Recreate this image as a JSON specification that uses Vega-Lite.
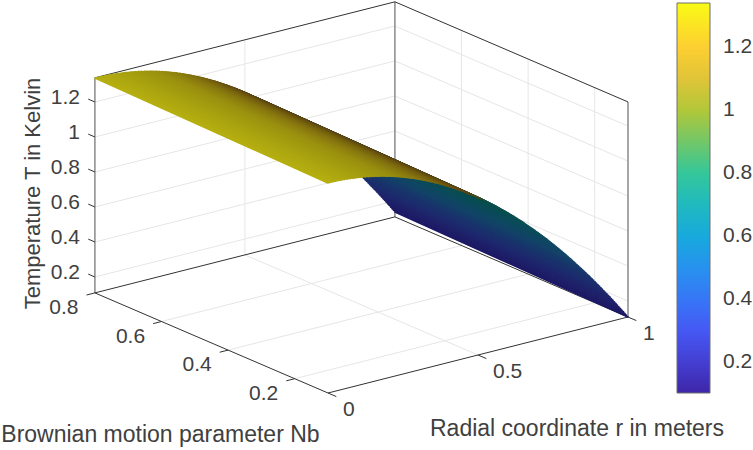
{
  "$schema": "https://vega.github.io/schema/vega-lite/v6.json",
  "description": "3D surface of temperature over r and Nb, projected by hand onto the screen plane.",
  "background": "white",
  "autosize": {"type": "fit", "contains": "padding"},
  "width": 753,
  "height": 450,
  "padding": 0,
  "datasets": {
    "surface": [
      {"r":1,"T_back":0.137,"T_front":0.109},{"r":0.995,"T_back":0.149,"T_front":0.121},{"r":0.99,"T_back":0.161,"T_front":0.133},{"r":0.985,"T_back":0.173,"T_front":0.145},{"r":0.98,"T_back":0.185,"T_front":0.157},{"r":0.975,"T_back":0.196,"T_front":0.168},{"r":0.97,"T_back":0.208,"T_front":0.18},{"r":0.965,"T_back":0.22,"T_front":0.192},{"r":0.96,"T_back":0.231,"T_front":0.203},{"r":0.955,"T_back":0.243,"T_front":0.215},
      {"r":0.95,"T_back":0.254,"T_front":0.226},{"r":0.945,"T_back":0.265,"T_front":0.237},{"r":0.94,"T_back":0.277,"T_front":0.249},{"r":0.935,"T_back":0.288,"T_front":0.26},{"r":0.93,"T_back":0.299,"T_front":0.271},{"r":0.925,"T_back":0.31,"T_front":0.282},{"r":0.92,"T_back":0.321,"T_front":0.293},{"r":0.915,"T_back":0.332,"T_front":0.304},{"r":0.91,"T_back":0.343,"T_front":0.315},{"r":0.905,"T_back":0.354,"T_front":0.326},
      {"r":0.9,"T_back":0.365,"T_front":0.337},{"r":0.895,"T_back":0.376,"T_front":0.348},{"r":0.89,"T_back":0.386,"T_front":0.358},{"r":0.885,"T_back":0.397,"T_front":0.369},{"r":0.88,"T_back":0.408,"T_front":0.38},{"r":0.875,"T_back":0.418,"T_front":0.39},{"r":0.87,"T_back":0.429,"T_front":0.401},{"r":0.865,"T_back":0.439,"T_front":0.411},{"r":0.86,"T_back":0.449,"T_front":0.421},{"r":0.855,"T_back":0.46,"T_front":0.432},
      {"r":0.85,"T_back":0.47,"T_front":0.442},{"r":0.845,"T_back":0.48,"T_front":0.452},{"r":0.84,"T_back":0.49,"T_front":0.462},{"r":0.835,"T_back":0.5,"T_front":0.472},{"r":0.83,"T_back":0.51,"T_front":0.482},{"r":0.825,"T_back":0.52,"T_front":0.492},{"r":0.82,"T_back":0.53,"T_front":0.502},{"r":0.815,"T_back":0.54,"T_front":0.512},{"r":0.81,"T_back":0.55,"T_front":0.522},{"r":0.805,"T_back":0.559,"T_front":0.531},
      {"r":0.8,"T_back":0.569,"T_front":0.541},{"r":0.795,"T_back":0.579,"T_front":0.551},{"r":0.79,"T_back":0.588,"T_front":0.56},{"r":0.785,"T_back":0.598,"T_front":0.57},{"r":0.78,"T_back":0.607,"T_front":0.579},{"r":0.775,"T_back":0.616,"T_front":0.588},{"r":0.77,"T_back":0.626,"T_front":0.598},{"r":0.765,"T_back":0.635,"T_front":0.607},{"r":0.76,"T_back":0.644,"T_front":0.616},{"r":0.755,"T_back":0.653,"T_front":0.625},
      {"r":0.75,"T_back":0.662,"T_front":0.634},{"r":0.745,"T_back":0.671,"T_front":0.643},{"r":0.74,"T_back":0.68,"T_front":0.652},{"r":0.735,"T_back":0.689,"T_front":0.661},{"r":0.73,"T_back":0.698,"T_front":0.67},{"r":0.725,"T_back":0.706,"T_front":0.678},{"r":0.72,"T_back":0.715,"T_front":0.687},{"r":0.715,"T_back":0.724,"T_front":0.696},{"r":0.71,"T_back":0.732,"T_front":0.704},{"r":0.705,"T_back":0.741,"T_front":0.713},
      {"r":0.7,"T_back":0.749,"T_front":0.721},{"r":0.695,"T_back":0.757,"T_front":0.729},{"r":0.69,"T_back":0.766,"T_front":0.738},{"r":0.685,"T_back":0.774,"T_front":0.746},{"r":0.68,"T_back":0.782,"T_front":0.754},{"r":0.675,"T_back":0.79,"T_front":0.762},{"r":0.67,"T_back":0.798,"T_front":0.77},{"r":0.665,"T_back":0.806,"T_front":0.778},{"r":0.66,"T_back":0.814,"T_front":0.786},{"r":0.655,"T_back":0.822,"T_front":0.794},
      {"r":0.65,"T_back":0.83,"T_front":0.802},{"r":0.645,"T_back":0.838,"T_front":0.81},{"r":0.64,"T_back":0.845,"T_front":0.817},{"r":0.635,"T_back":0.853,"T_front":0.825},{"r":0.63,"T_back":0.861,"T_front":0.833},{"r":0.625,"T_back":0.868,"T_front":0.84},{"r":0.62,"T_back":0.876,"T_front":0.848},{"r":0.615,"T_back":0.883,"T_front":0.855},{"r":0.61,"T_back":0.89,"T_front":0.862},{"r":0.605,"T_back":0.898,"T_front":0.87},
      {"r":0.6,"T_back":0.905,"T_front":0.877},{"r":0.595,"T_back":0.912,"T_front":0.884},{"r":0.59,"T_back":0.919,"T_front":0.891},{"r":0.585,"T_back":0.926,"T_front":0.898},{"r":0.58,"T_back":0.933,"T_front":0.905},{"r":0.575,"T_back":0.94,"T_front":0.912},{"r":0.57,"T_back":0.947,"T_front":0.919},{"r":0.565,"T_back":0.954,"T_front":0.926},{"r":0.56,"T_back":0.961,"T_front":0.933},{"r":0.555,"T_back":0.967,"T_front":0.939},
      {"r":0.55,"T_back":0.974,"T_front":0.946},{"r":0.545,"T_back":0.981,"T_front":0.953},{"r":0.54,"T_back":0.987,"T_front":0.959},{"r":0.535,"T_back":0.994,"T_front":0.966},{"r":0.53,"T_back":1.0,"T_front":0.972},{"r":0.525,"T_back":1.006,"T_front":0.978},{"r":0.52,"T_back":1.013,"T_front":0.985},{"r":0.515,"T_back":1.019,"T_front":0.991},{"r":0.51,"T_back":1.025,"T_front":0.997},{"r":0.505,"T_back":1.031,"T_front":1.003},
      {"r":0.5,"T_back":1.037,"T_front":1.009},{"r":0.495,"T_back":1.043,"T_front":1.015},{"r":0.49,"T_back":1.049,"T_front":1.021},{"r":0.485,"T_back":1.055,"T_front":1.027},{"r":0.48,"T_back":1.061,"T_front":1.033},{"r":0.475,"T_back":1.066,"T_front":1.038},{"r":0.47,"T_back":1.072,"T_front":1.044},{"r":0.465,"T_back":1.078,"T_front":1.05},{"r":0.46,"T_back":1.083,"T_front":1.055},{"r":0.455,"T_back":1.089,"T_front":1.061},
      {"r":0.45,"T_back":1.094,"T_front":1.066},{"r":0.445,"T_back":1.099,"T_front":1.071},{"r":0.44,"T_back":1.105,"T_front":1.077},{"r":0.435,"T_back":1.11,"T_front":1.082},{"r":0.43,"T_back":1.115,"T_front":1.087},{"r":0.425,"T_back":1.12,"T_front":1.092},{"r":0.42,"T_back":1.125,"T_front":1.097},{"r":0.415,"T_back":1.13,"T_front":1.102},{"r":0.41,"T_back":1.135,"T_front":1.107},{"r":0.405,"T_back":1.14,"T_front":1.112},
      {"r":0.4,"T_back":1.145,"T_front":1.117},{"r":0.395,"T_back":1.15,"T_front":1.122},{"r":0.39,"T_back":1.154,"T_front":1.126},{"r":0.385,"T_back":1.159,"T_front":1.131},{"r":0.38,"T_back":1.164,"T_front":1.136},{"r":0.375,"T_back":1.168,"T_front":1.14},{"r":0.37,"T_back":1.173,"T_front":1.145},{"r":0.365,"T_back":1.177,"T_front":1.149},{"r":0.36,"T_back":1.181,"T_front":1.153},{"r":0.355,"T_back":1.186,"T_front":1.158},
      {"r":0.35,"T_back":1.19,"T_front":1.162},{"r":0.345,"T_back":1.194,"T_front":1.166},{"r":0.34,"T_back":1.198,"T_front":1.17},{"r":0.335,"T_back":1.202,"T_front":1.174},{"r":0.33,"T_back":1.206,"T_front":1.178},{"r":0.325,"T_back":1.21,"T_front":1.182},{"r":0.32,"T_back":1.214,"T_front":1.186},{"r":0.315,"T_back":1.218,"T_front":1.19},{"r":0.31,"T_back":1.222,"T_front":1.194},{"r":0.305,"T_back":1.225,"T_front":1.197},
      {"r":0.3,"T_back":1.229,"T_front":1.201},{"r":0.295,"T_back":1.233,"T_front":1.205},{"r":0.29,"T_back":1.236,"T_front":1.208},{"r":0.285,"T_back":1.24,"T_front":1.212},{"r":0.28,"T_back":1.243,"T_front":1.215},{"r":0.275,"T_back":1.246,"T_front":1.218},{"r":0.27,"T_back":1.25,"T_front":1.222},{"r":0.265,"T_back":1.253,"T_front":1.225},{"r":0.26,"T_back":1.256,"T_front":1.228},{"r":0.255,"T_back":1.259,"T_front":1.231},
      {"r":0.25,"T_back":1.262,"T_front":1.234},{"r":0.245,"T_back":1.265,"T_front":1.237},{"r":0.24,"T_back":1.268,"T_front":1.24},{"r":0.235,"T_back":1.271,"T_front":1.243},{"r":0.23,"T_back":1.274,"T_front":1.246},{"r":0.225,"T_back":1.276,"T_front":1.248},{"r":0.22,"T_back":1.279,"T_front":1.251},{"r":0.215,"T_back":1.282,"T_front":1.254},{"r":0.21,"T_back":1.284,"T_front":1.256},{"r":0.205,"T_back":1.287,"T_front":1.259},
      {"r":0.2,"T_back":1.289,"T_front":1.261},{"r":0.195,"T_back":1.291,"T_front":1.263},{"r":0.19,"T_back":1.294,"T_front":1.266},{"r":0.185,"T_back":1.296,"T_front":1.268},{"r":0.18,"T_back":1.298,"T_front":1.27},{"r":0.175,"T_back":1.3,"T_front":1.272},{"r":0.17,"T_back":1.302,"T_front":1.274},{"r":0.165,"T_back":1.304,"T_front":1.276},{"r":0.16,"T_back":1.306,"T_front":1.278},{"r":0.155,"T_back":1.308,"T_front":1.28},
      {"r":0.15,"T_back":1.31,"T_front":1.282},{"r":0.145,"T_back":1.312,"T_front":1.284},{"r":0.14,"T_back":1.313,"T_front":1.285},{"r":0.135,"T_back":1.315,"T_front":1.287},{"r":0.13,"T_back":1.317,"T_front":1.289},{"r":0.125,"T_back":1.318,"T_front":1.29},{"r":0.12,"T_back":1.32,"T_front":1.292},{"r":0.115,"T_back":1.321,"T_front":1.293},{"r":0.11,"T_back":1.322,"T_front":1.294},{"r":0.105,"T_back":1.324,"T_front":1.296},
      {"r":0.1,"T_back":1.325,"T_front":1.297},{"r":0.095,"T_back":1.326,"T_front":1.298},{"r":0.09,"T_back":1.327,"T_front":1.299},{"r":0.085,"T_back":1.328,"T_front":1.3},{"r":0.08,"T_back":1.329,"T_front":1.301},{"r":0.075,"T_back":1.33,"T_front":1.302},{"r":0.07,"T_back":1.331,"T_front":1.303},{"r":0.065,"T_back":1.332,"T_front":1.304},{"r":0.06,"T_back":1.333,"T_front":1.305},{"r":0.055,"T_back":1.333,"T_front":1.305},
      {"r":0.05,"T_back":1.334,"T_front":1.306},{"r":0.045,"T_back":1.335,"T_front":1.307},{"r":0.04,"T_back":1.335,"T_front":1.307},{"r":0.035,"T_back":1.336,"T_front":1.308},{"r":0.03,"T_back":1.336,"T_front":1.308},{"r":0.025,"T_back":1.336,"T_front":1.308},{"r":0.02,"T_back":1.337,"T_front":1.309},{"r":0.015,"T_back":1.337,"T_front":1.309},{"r":0.01,"T_back":1.337,"T_front":1.309},{"r":0.005,"T_back":1.337,"T_front":1.309},{"r":0,"T_back":1.337,"T_front":1.309}
    ],
    "grid": [
      {"r":0,"nb":0.8,"T":0.2,"r2":1,"nb2":0.8,"T2":0.2},{"r":0,"nb":0.8,"T":0.4,"r2":1,"nb2":0.8,"T2":0.4},{"r":0,"nb":0.8,"T":0.6,"r2":1,"nb2":0.8,"T2":0.6},{"r":0,"nb":0.8,"T":0.8,"r2":1,"nb2":0.8,"T2":0.8},{"r":0,"nb":0.8,"T":1,"r2":1,"nb2":0.8,"T2":1},{"r":0,"nb":0.8,"T":1.2,"r2":1,"nb2":0.8,"T2":1.2},
      {"r":1,"nb":0.8,"T":0.2,"r2":1,"nb2":0.1,"T2":0.2},{"r":1,"nb":0.8,"T":0.4,"r2":1,"nb2":0.1,"T2":0.4},{"r":1,"nb":0.8,"T":0.6,"r2":1,"nb2":0.1,"T2":0.6},{"r":1,"nb":0.8,"T":0.8,"r2":1,"nb2":0.1,"T2":0.8},{"r":1,"nb":0.8,"T":1,"r2":1,"nb2":0.1,"T2":1},{"r":1,"nb":0.8,"T":1.2,"r2":1,"nb2":0.1,"T2":1.2},
      {"r":0.5,"nb":0.8,"T":0.109,"r2":0.5,"nb2":0.8,"T2":1.338},{"r":1,"nb":0.6,"T":0.109,"r2":1,"nb2":0.6,"T2":1.338},{"r":1,"nb":0.4,"T":0.109,"r2":1,"nb2":0.4,"T2":1.338},{"r":1,"nb":0.2,"T":0.109,"r2":1,"nb2":0.2,"T2":1.338},
      {"r":0.5,"nb":0.8,"T":0.109,"r2":0.5,"nb2":0.1,"T2":0.109},{"r":0,"nb":0.6,"T":0.109,"r2":1,"nb2":0.6,"T2":0.109},{"r":0,"nb":0.4,"T":0.109,"r2":1,"nb2":0.4,"T2":0.109},{"r":0,"nb":0.2,"T":0.109,"r2":1,"nb2":0.2,"T2":0.109}
    ],
    "walls": [
      {"r":0,"nb":0.8,"T":0.109,"r2":0,"nb2":0.8,"T2":1.338},{"r":1,"nb":0.8,"T":0.109,"r2":1,"nb2":0.8,"T2":1.338},{"r":1,"nb":0.1,"T":0.109,"r2":1,"nb2":0.1,"T2":1.338}
    ],
    "box": [
      {"r":0,"nb":0.8,"T":0.109,"r2":0,"nb2":0.1,"T2":0.109},{"r":0,"nb":0.1,"T":0.109,"r2":1,"nb2":0.1,"T2":0.109},{"r":0,"nb":0.8,"T":0.109,"r2":1,"nb2":0.8,"T2":0.109},{"r":1,"nb":0.8,"T":0.109,"r2":1,"nb2":0.1,"T2":0.109},
      {"r":0,"nb":0.8,"T":1.338,"r2":1,"nb2":0.8,"T2":1.338},{"r":1,"nb":0.8,"T":1.338,"r2":1,"nb2":0.1,"T2":1.338},
      {"r":0,"nb":0.8,"T":0.109,"r2":-0.028,"nb2":0.8,"T2":0.109},{"r":0,"nb":0.6,"T":0.109,"r2":-0.028,"nb2":0.6,"T2":0.109},{"r":0,"nb":0.4,"T":0.109,"r2":-0.028,"nb2":0.4,"T2":0.109},{"r":0,"nb":0.2,"T":0.109,"r2":-0.028,"nb2":0.2,"T2":0.109},
      {"r":0,"nb":0.1,"T":0.109,"r2":0,"nb2":0.075,"T2":0.109},{"r":0.5,"nb":0.1,"T":0.109,"r2":0.5,"nb2":0.075,"T2":0.109},{"r":1,"nb":0.1,"T":0.109,"r2":1,"nb2":0.075,"T2":0.109},
      {"r":0,"nb":0.8,"T":0.2,"r2":0,"nb2":0.82,"T2":0.2},{"r":0,"nb":0.8,"T":0.4,"r2":0,"nb2":0.82,"T2":0.4},{"r":0,"nb":0.8,"T":0.6,"r2":0,"nb2":0.82,"T2":0.6},{"r":0,"nb":0.8,"T":0.8,"r2":0,"nb2":0.82,"T2":0.8},{"r":0,"nb":0.8,"T":1,"r2":0,"nb2":0.82,"T2":1},{"r":0,"nb":0.8,"T":1.2,"r2":0,"nb2":0.82,"T2":1.2}
    ],
    "labels_T": [
      {"r":0,"nb":0.8,"T":0.2,"label":"0.2"},{"r":0,"nb":0.8,"T":0.4,"label":"0.4"},{"r":0,"nb":0.8,"T":0.6,"label":"0.6"},{"r":0,"nb":0.8,"T":0.8,"label":"0.8"},{"r":0,"nb":0.8,"T":1,"label":"1"},{"r":0,"nb":0.8,"T":1.2,"label":"1.2"}
    ],
    "labels_nb": [
      {"r":0,"nb":0.8,"T":0.109,"label":"0.8"},{"r":0,"nb":0.6,"T":0.109,"label":"0.6"},{"r":0,"nb":0.4,"T":0.109,"label":"0.4"},{"r":0,"nb":0.2,"T":0.109,"label":"0.2"}
    ],
    "labels_r": [
      {"r":0,"nb":0.1,"T":0.109,"label":"0"},{"r":0.5,"nb":0.1,"T":0.109,"label":"0.5"},{"r":1,"nb":0.1,"T":0.109,"label":"1"}
    ]
  },
  "layer": [
    {
      "data": {"name": "grid"},
      "transform": [
        {"calculate": "328+300*datum.r-333*(datum.nb-0.1)", "as": "sx"},
        {"calculate": "393-76*datum.r-143*(datum.nb-0.1)-175*(datum.T-0.109)", "as": "sy"},
        {"calculate": "328+300*datum.r2-333*(datum.nb2-0.1)", "as": "sx2"},
        {"calculate": "393-76*datum.r2-143*(datum.nb2-0.1)-175*(datum.T2-0.109)", "as": "sy2"}
      ],
      "mark": {"type": "rule", "color": "#e6e6e6", "strokeWidth": 1},
      "encoding": {
        "x": {"field": "sx", "type": "quantitative", "scale": {"domain": [0, 753], "nice": false, "zero": false}, "axis": null},
        "y": {"field": "sy", "type": "quantitative", "scale": {"domain": [450, 0], "nice": false, "zero": false}, "axis": null},
        "x2": {"field": "sx2"},
        "y2": {"field": "sy2"}
      }
    },
    {
      "data": {"name": "walls"},
      "transform": [
        {"calculate": "328+300*datum.r-333*(datum.nb-0.1)", "as": "sx"},
        {"calculate": "393-76*datum.r-143*(datum.nb-0.1)-175*(datum.T-0.109)", "as": "sy"},
        {"calculate": "328+300*datum.r2-333*(datum.nb2-0.1)", "as": "sx2"},
        {"calculate": "393-76*datum.r2-143*(datum.nb2-0.1)-175*(datum.T2-0.109)", "as": "sy2"}
      ],
      "mark": {"type": "rule", "color": "#8a8a8a", "strokeWidth": 1.5},
      "encoding": {
        "x": {"field": "sx", "type": "quantitative", "axis": null},
        "y": {"field": "sy", "type": "quantitative", "axis": null},
        "x2": {"field": "sx2"},
        "y2": {"field": "sy2"}
      }
    },
    {
      "data": {"name": "box"},
      "transform": [
        {"calculate": "328+300*datum.r-333*(datum.nb-0.1)", "as": "sx"},
        {"calculate": "393-76*datum.r-143*(datum.nb-0.1)-175*(datum.T-0.109)", "as": "sy"},
        {"calculate": "328+300*datum.r2-333*(datum.nb2-0.1)", "as": "sx2"},
        {"calculate": "393-76*datum.r2-143*(datum.nb2-0.1)-175*(datum.T2-0.109)", "as": "sy2"}
      ],
      "mark": {"type": "rule", "color": "#333333", "strokeWidth": 1},
      "encoding": {
        "x": {"field": "sx", "type": "quantitative", "axis": null},
        "y": {"field": "sy", "type": "quantitative", "axis": null},
        "x2": {"field": "sx2"},
        "y2": {"field": "sy2"}
      }
    },
    {
      "data": {"name": "surface"},
      "transform": [
        {"calculate": "95+300*datum.r", "as": "sx"},
        {"calculate": "293-76*datum.r-175*(datum.T_back-0.109)", "as": "sy"},
        {"calculate": "328+300*datum.r", "as": "sx2"},
        {"calculate": "393-76*datum.r-175*(datum.T_front-0.109)", "as": "sy2"}
      ],
      "mark": {"type": "rule", "strokeWidth": 0.6},
      "encoding": {
        "x": {"field": "sx", "type": "quantitative", "axis": null},
        "y": {"field": "sy", "type": "quantitative", "axis": null},
        "x2": {"field": "sx2"},
        "y2": {"field": "sy2"},
        "color": {
          "field": "T_back",
          "type": "quantitative",
          "scale": {
            "domain": [0.1, 0.277, 0.454, 0.631, 0.809, 0.986, 1.163, 1.34],
            "range": ["#3e26a8", "#4852f4", "#2e87f7", "#12b1d6", "#37c897", "#abc739", "#fec338", "#f9fb15"],
            "interpolate": "rgb"
          },
          "legend": {
            "orient": "none",
            "legendX": 677,
            "legendY": 3,
            "title": null,
            "direction": "vertical",
            "gradientLength": 390,
            "gradientThickness": 33,
            "gradientStrokeColor": "#6f6f6f",
            "gradientStrokeWidth": 1,
            "values": [0.2, 0.4, 0.6, 0.8, 1, 1.2],
            "format": "~g",
            "labelFont": "Liberation Sans",
            "labelFontSize": 21,
            "labelColor": "#404040",
            "labelOffset": 13,
            "labelOverlap": false,
            "padding": 0
          }
        }
      }
    },
    {
      "data": {"name": "surface"},
      "transform": [
        {"calculate": "95+300*datum.r", "as": "sx"},
        {"calculate": "293-76*datum.r-175*(datum.T_back-0.109)", "as": "sy"},
        {"calculate": "328+300*datum.r", "as": "sx2"},
        {"calculate": "393-76*datum.r-175*(datum.T_front-0.109)", "as": "sy2"}
      ],
      "mark": {"type": "rule", "strokeWidth": 1.6, "strokeCap": "round"},
      "encoding": {
        "x": {"field": "sx", "type": "quantitative", "axis": null},
        "y": {"field": "sy", "type": "quantitative", "axis": null},
        "x2": {"field": "sx2"},
        "y2": {"field": "sy2"},
        "color": {
          "field": "r",
          "type": "quantitative",
          "scale": {
            "domain": [0, 0.1, 0.2, 0.3, 0.4, 0.46, 0.5, 0.53, 0.6, 0.7, 0.8, 0.87, 0.92, 0.96, 1],
            "range": ["#b5ae10", "#a6a010", "#9a9010", "#857510", "#6a5410", "#5a4418", "#40481e", "#0c4f48", "#0a4f50", "#0c4c5a", "#134468", "#19346c", "#1d2a6d", "#1e2068", "#1c1864"],
            "interpolate": "rgb"
          },
          "legend": null
        }
      }
    },
    {
      "data": {"name": "labels_T"},
      "transform": [
        {"calculate": "328+300*datum.r-333*(datum.nb-0.1)", "as": "sx"},
        {"calculate": "393-76*datum.r-143*(datum.nb-0.1)-175*(datum.T-0.109)", "as": "sy"}
      ],
      "mark": {"type": "text", "font": "Liberation Sans", "fontSize": 21, "color": "#404040", "align": "right", "dx": -15, "dy": -4},
      "encoding": {
        "x": {"field": "sx", "type": "quantitative", "axis": null},
        "y": {"field": "sy", "type": "quantitative", "axis": null},
        "text": {"field": "label"}
      }
    },
    {
      "data": {"name": "labels_nb"},
      "transform": [
        {"calculate": "328+300*datum.r-333*(datum.nb-0.1)", "as": "sx"},
        {"calculate": "393-76*datum.r-143*(datum.nb-0.1)-175*(datum.T-0.109)", "as": "sy"}
      ],
      "mark": {"type": "text", "font": "Liberation Sans", "fontSize": 21, "color": "#404040", "dx": -31, "dy": 15},
      "encoding": {
        "x": {"field": "sx", "type": "quantitative", "axis": null},
        "y": {"field": "sy", "type": "quantitative", "axis": null},
        "text": {"field": "label"}
      }
    },
    {
      "data": {"name": "labels_r"},
      "transform": [
        {"calculate": "328+300*datum.r-333*(datum.nb-0.1)", "as": "sx"},
        {"calculate": "393-76*datum.r-143*(datum.nb-0.1)-175*(datum.T-0.109)", "as": "sy"}
      ],
      "mark": {"type": "text", "font": "Liberation Sans", "fontSize": 21, "color": "#404040", "align": "left", "dx": 15, "dy": 17},
      "encoding": {
        "x": {"field": "sx", "type": "quantitative", "axis": null},
        "y": {"field": "sy", "type": "quantitative", "axis": null},
        "text": {"field": "label"}
      }
    },
    {
      "data": {"values": [{"r": 0, "nb": 0.45, "T": 0.109, "label": "Brownian motion parameter Nb"}]},
      "transform": [
        {"calculate": "328+300*datum.r-333*(datum.nb-0.1)", "as": "sx"},
        {"calculate": "393-76*datum.r-143*(datum.nb-0.1)-175*(datum.T-0.109)", "as": "sy"}
      ],
      "mark": {"type": "text", "font": "Liberation Sans", "fontSize": 23, "color": "#404040", "dx": -51, "dy": 92},
      "encoding": {
        "x": {"field": "sx", "type": "quantitative", "axis": null},
        "y": {"field": "sy", "type": "quantitative", "axis": null},
        "text": {"field": "label"}
      }
    },
    {
      "data": {"values": [{"r": 0.5, "nb": 0.1, "T": 0.109, "label": "Radial coordinate r in meters"}]},
      "transform": [
        {"calculate": "328+300*datum.r-333*(datum.nb-0.1)", "as": "sx"},
        {"calculate": "393-76*datum.r-143*(datum.nb-0.1)-175*(datum.T-0.109)", "as": "sy"}
      ],
      "mark": {"type": "text", "font": "Liberation Sans", "fontSize": 23, "color": "#404040", "dx": 99, "dy": 74},
      "encoding": {
        "x": {"field": "sx", "type": "quantitative", "axis": null},
        "y": {"field": "sy", "type": "quantitative", "axis": null},
        "text": {"field": "label"}
      }
    },
    {
      "data": {"values": [{"r": 0, "nb": 0.8, "T": 0.7, "label": "Temperature T in Kelvin"}]},
      "transform": [
        {"calculate": "328+300*datum.r-333*(datum.nb-0.1)", "as": "sx"},
        {"calculate": "393-76*datum.r-143*(datum.nb-0.1)-175*(datum.T-0.109)", "as": "sy"}
      ],
      "mark": {"type": "text", "font": "Liberation Sans", "fontSize": 22, "color": "#404040", "angle": 270, "dx": -4, "dy": -62},
      "encoding": {
        "x": {"field": "sx", "type": "quantitative", "axis": null},
        "y": {"field": "sy", "type": "quantitative", "axis": null},
        "text": {"field": "label"}
      }
    }
  ],
  "resolve": {"scale": {"color": "independent"}},
  "config": {"view": {"stroke": null}}
}
